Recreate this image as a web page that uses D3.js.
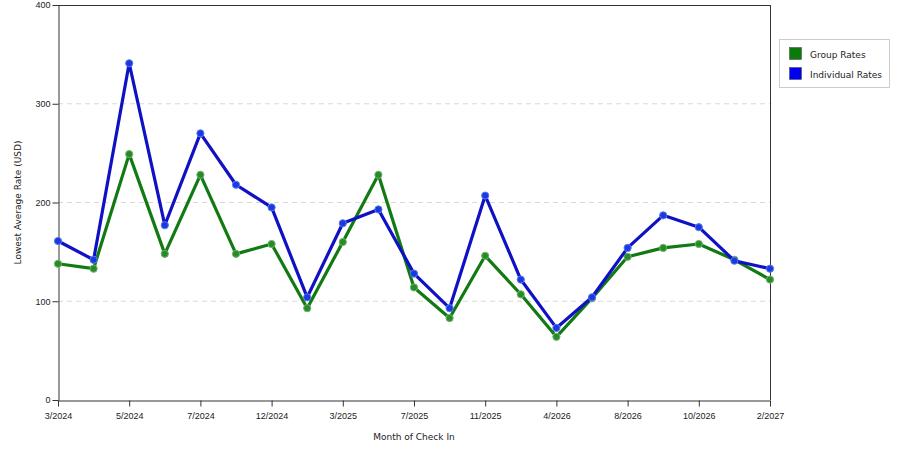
<!DOCTYPE html>
<html><head><meta charset="utf-8">
<script src="https://cdn.jsdelivr.net/npm/d3@7"></script>
<style>body{margin:0;background:#fff}svg{display:block;font-family:"DejaVu Sans",Verdana,sans-serif}</style>
</head><body><svg id="c" width="900" height="450"></svg>
<script>
const months = ["3/2024","4/2024","5/2024","6/2024","7/2024","10/2024","12/2024","1/2025","3/2025","5/2025","7/2025","9/2025","11/2025","1/2026","4/2026","6/2026","8/2026","9/2026","10/2026","12/2026","2/2027"];
const tickLabels = ["3/2024","5/2024","7/2024","12/2024","3/2025","7/2025","11/2025","4/2026","8/2026","10/2026","2/2027"];
const groupRates = [138,133,249,148,228,148,158,93,160,228,114,83,146,107,64,103,145,154,158,142,122];
const individualRates = [161,142,341,177,270,218,195,104,179,193,128,93,207,122,73,104,154,187,175,141,133];
const yTicks = [0,100,200,300,400];
const seriesNames = ["Group Rates","Individual Rates"];

const svg = d3.select("#c");
const L=58, R=770, T=5, B=400;
const x = d3.scalePoint().domain(d3.range(months.length)).range([L,R]);
const y = d3.scaleLinear().domain([0,400]).range([B,T]);

// grid
svg.append("g").selectAll("line").data([100,200,300]).join("line")
  .attr("x1",L).attr("x2",R).attr("y1",d=>y(d)).attr("y2",d=>y(d))
  .attr("stroke","#d8d8d8").attr("stroke-dasharray","5,4").attr("stroke-width",1);

// frame top/right
svg.append("line").attr("x1",L).attr("x2",R).attr("y1",T+0.5).attr("y2",T+0.5).attr("stroke","#333");
svg.append("line").attr("x1",R+0.5).attr("x2",R+0.5).attr("y1",T).attr("y2",B).attr("stroke","#333");

// axes
const tickIdx = tickLabels.map(t=>months.indexOf(t));
const xAxis = d3.axisBottom(x).tickValues(tickIdx).tickFormat(i=>months[i]).tickSize(6).tickSizeOuter(0);
const gx = svg.append("g").attr("transform",`translate(0,${B+0.5})`).call(xAxis);
gx.selectAll("text").attr("font-size",9).attr("fill","#222").attr("dy","1.1em");
gx.selectAll("line,path").attr("stroke","#333");
const yAxis = d3.axisLeft(y).tickValues(yTicks).tickSize(6).tickSizeOuter(0);
const gy = svg.append("g").attr("transform",`translate(${L+0.5},0)`).call(yAxis);
gy.selectAll("text").attr("font-size",9).attr("fill","#222").attr("x",-8);
gy.selectAll("line,path").attr("stroke","#333");

svg.append("text").attr("x",(L+R)/2).attr("y",440).attr("text-anchor","middle")
  .attr("font-size",9).attr("fill","#222").text("Month of Check In");
svg.append("text").attr("transform",`translate(21,${(T+B)/2}) rotate(-90)`).attr("text-anchor","middle")
  .attr("font-size",9).attr("fill","#222").text("Lowest Average Rate (USD)");

// series
const series = [
  {name:seriesNames[0], data:groupRates, line:"#127a12", fill:"#2a8a2a", edge:"#6ab56a"},
  {name:seriesNames[1], data:individualRates, line:"#1010c4", fill:"#1a3ae0", edge:"#5a7af0"}
];
const lineGen = d3.line().x((d,i)=>x(i)).y(d=>y(d));
series.forEach(s=>{
  svg.append("path").datum(s.data).attr("d",lineGen).attr("fill","none")
    .attr("stroke",s.line).attr("stroke-width",3.2).attr("stroke-linejoin","round");
  svg.append("g").selectAll("circle").data(s.data).join("circle")
    .attr("cx",(d,i)=>x(i)).attr("cy",d=>y(d)).attr("r",3.6)
    .attr("fill",s.fill).attr("stroke",s.edge).attr("stroke-width",1);
});

// legend
const lg = svg.append("g");
lg.append("rect").attr("x",779.5).attr("y",39.5).attr("width",110).attr("height",48)
  .attr("fill","#fff").attr("stroke","#ccc");
series.forEach((s,i)=>{
  lg.append("rect").attr("x",789.5).attr("y",47.5+i*20).attr("width",12).attr("height",12)
    .attr("fill",i===0?"#0a7a0a":"#0000ee").attr("stroke","#444").attr("stroke-width",0.5);
  lg.append("text").attr("x",810).attr("y",57.5+i*20).attr("font-size",9).attr("fill","#222").text(s.name);
});
</script></body></html>
